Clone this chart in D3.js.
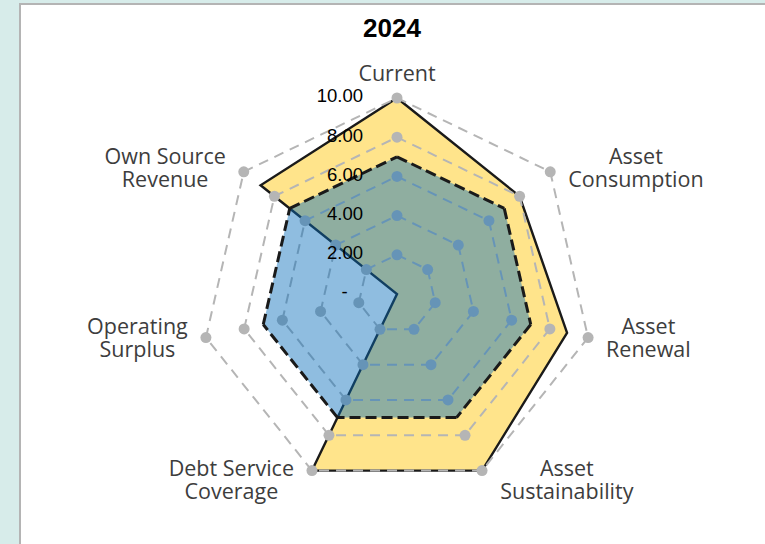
<!DOCTYPE html>
<html>
<head>
<meta charset="utf-8">
<script src="https://cdn.jsdelivr.net/npm/d3@7"></script>
<style>
  body { margin: 0; background: #d7ecea; }
  svg { display: block; }
</style>
</head>
<body>
<svg id="chart" width="765" height="544"></svg>
<script>
// Radar chart: financial sustainability indicators, 2024
const chartTitle = "2024";
const indicatorNames = [
  ["Current"],
  ["Asset", "Consumption"],
  ["Asset", "Renewal"],
  ["Asset", "Sustainability"],
  ["Debt Service", "Coverage"],
  ["Operating", "Surplus"],
  ["Own Source", "Revenue"]
];
const resultValues = [10, 8, 8.9, 10, 10, 0, 8.9];   // yellow series
const benchmarkValues = [7, 7, 7, 7, 7, 7, 7];        // dashed benchmark series
const ringLevels = [2, 4, 6, 8, 10];
const tickValues = [0, 2, 4, 6, 8, 10];
const tickLabels = ["-   ", "2.00", "4.00", "6.00", "8.00", "10.00"];

const W = 765, H = 544;
const cx = 397, cy = 294, R = 196;
const n = indicatorNames.length;

const svg = d3.select("#chart");

// panel with a thin grey frame on the top and left
svg.append("rect").attr("x", 20).attr("y", 4).attr("width", W).attr("height", H)
  .attr("fill", "#ffffff");
svg.append("path").attr("d", `M20,${H}V4H${W}`)
  .attr("fill", "none").attr("stroke", "#b4b4b4").attr("stroke-width", 2);

svg.append("text").attr("x", 392).attr("y", 28).attr("dy", "0.35em")
  .attr("text-anchor", "middle")
  .attr("font-family", "'Liberation Sans', Arial, sans-serif")
  .attr("font-weight", "bold").attr("font-size", 26).attr("fill", "#000")
  .text(chartTitle);

const r = d3.scaleLinear().domain([0, 10]).range([0, R]);
const angle = i => i * 2 * Math.PI / n;
const pt = (i, v) => d3.pointRadial(angle(i), r(v));

const g = svg.append("g").attr("transform", `translate(${cx},${cy})`);

const radar = d3.lineRadial()
  .angle((d, i) => angle(i))
  .radius(d => r(d))
  .curve(d3.curveLinearClosed);

// result series (opaque yellow, solid black outline)
g.append("path").attr("d", radar(resultValues))
  .attr("fill", "#ffe48b").attr("stroke", "#1a1a1a")
  .attr("stroke-width", 2.4).attr("stroke-linejoin", "miter");

// dashed rings with markers at each vertex
const ringG = g.append("g");
ringLevels.forEach(lv => {
  const segs = d3.range(n).map(i => [pt(i, lv), pt((i + 1) % n, lv)]);
  ringG.selectAll(null).data(segs).join("path")
    .attr("d", d => d3.line()(d))
    .attr("fill", "none").attr("stroke", "#b5b5b5")
    .attr("stroke-width", 2).attr("stroke-dasharray", "10,7");
  ringG.selectAll(null).data(d3.range(n)).join("circle")
    .attr("cx", i => pt(i, lv)[0]).attr("cy", i => pt(i, lv)[1])
    .attr("r", 5.5).attr("fill", "#b5b5b5");
});

// benchmark series: translucent blue over everything, dashed black outline
g.append("path").attr("d", radar(benchmarkValues))
  .attr("fill", "rgba(6,108,186,0.45)").attr("stroke", "none");
const bSegs = d3.range(n).map(i => [pt(i, benchmarkValues[i]), pt((i + 1) % n, benchmarkValues[(i + 1) % n])]);
g.append("g").selectAll("path").data(bSegs).join("path")
  .attr("d", d => d3.line()(d))
  .attr("fill", "none").attr("stroke", "#1a1a1a")
  .attr("stroke-width", 3).attr("stroke-dasharray", "11,5");

// value labels along the vertical axis, sitting just above each ring
g.append("g").selectAll("text").data(tickValues).join("text")
  .attr("x", -34).attr("y", v => -r(v) - 2).attr("dy", "0.35em")
  .attr("text-anchor", "end").attr("xml:space", "preserve")
  .style("white-space", "pre")
  .attr("font-family", "'Liberation Sans', Arial, sans-serif")
  .attr("font-size", 18.5).attr("fill", "#000")
  .text((v, i) => tickLabels[i]);

// indicator names around the outside
const lineH = 23;
const labG = g.append("g")
  .attr("font-family", "'Open Sans', sans-serif")
  .attr("font-size", 21.5).attr("fill", "#3d3d3d");
indicatorNames.forEach((lines, i) => {
  const [vx, vy] = pt(i, 10);
  const dx = Math.sin(angle(i)), dy = -Math.cos(angle(i));
  const t = labG.append("text").attr("text-anchor", "middle");
  lines.forEach((s, k) => {
    t.append("tspan").attr("x", 0)
      .attr("y", (k - (lines.length - 1) / 2) * lineH)
      .attr("dy", "0.35em").text(s);
  });
  const w = t.node().getBBox().width;
  let bx, by;
  if (Math.abs(dx) < 0.1) { bx = vx; by = vy - 25; }
  else {
    bx = vx + Math.sign(dx) * (18 + w / 2);
    by = vy + 11 * dy * Math.abs(dy);
  }
  t.attr("transform", `translate(${bx},${by})`);
});
</script>
</body>
</html>
